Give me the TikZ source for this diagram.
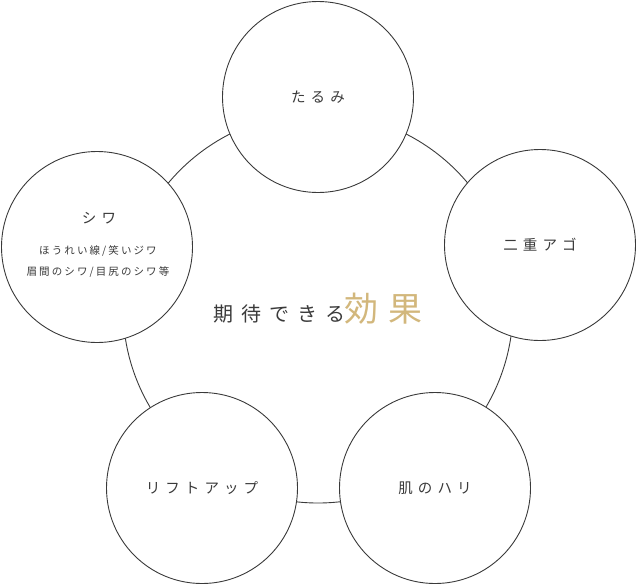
\documentclass[tikz,border=0pt]{standalone}
\usepackage{fontspec}
\setmainfont{Noto Sans CJK JP}
\newfontfamily\spaced{Noto Sans CJK JP}[LetterSpace=35]
\newfontfamily\spacedsmall{Noto Sans CJK JP}[LetterSpace=20]
\newfontfamily\spacedtitle{Noto Sans CJK JP}[LetterSpace=40]
\newfontfamily\spacedgold{Noto Sans CJK JP}[LetterSpace=30]
\definecolor{linegray}{HTML}{3A3A3A}
\definecolor{textgray}{HTML}{3A3A3A}
\definecolor{gold}{HTML}{D2B77C}

\begin{document}
\begin{tikzpicture}[x=1pt, y=-1pt,
    bubble/.style={circle, draw=linegray, line width=0.9pt, fill=white,
        minimum size=191pt, inner sep=0pt, text=textgray,
        font=\spaced\fontsize{14.5}{18}\selectfont},
    subtext/.style={inner sep=0pt, text=textgray,
        font=\spacedsmall\fontsize{10.5}{12}\selectfont}]
    \useasboundingbox (0,0) rectangle (636,584);
    % hub and its title
    \node[circle, draw=linegray, line width=0.9pt, minimum size=390pt] (hub) at (318,308) {};
    \node[inner sep=0pt, text=textgray] (title) at (318,309)
        {\spacedtitle\fontsize{20}{20}\selectfont 期待できる\hspace{-1pt}{\color{gold}\spacedgold\fontsize{34}{34}\selectfont 効果}};
    % the five effects
    \node[bubble] (tarumi) at (318,97) {たるみ};
    \node[bubble] (ago) at (540,245) {二重アゴ};
    \node[bubble] (hari) at (435,488) {肌のハリ};
    \node[bubble] (liftup) at (202,488) {リフトアップ};
    \node[bubble] (shiwa) at (97,247) {};
    \node[subtext, font=\spaced\fontsize{14.5}{18}\selectfont] (shiwa-title) at (99,218) {シワ};
    \node[subtext] (shiwa-a) at (98,251) {ほうれい線/笑いジワ};
    \node[subtext] (shiwa-b) at (98,272) {眉間のシワ/目尻のシワ等};
\end{tikzpicture}
\end{document}
